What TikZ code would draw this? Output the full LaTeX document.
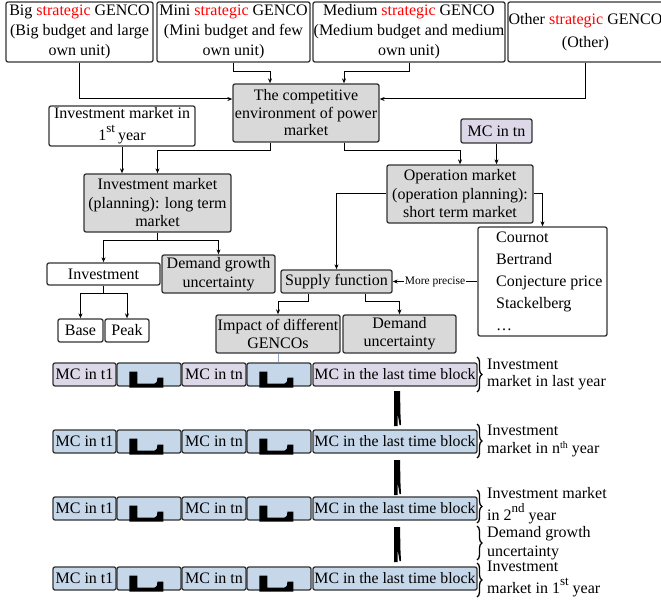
\documentclass[tikz,border=0pt]{standalone}
\usepackage{fontspec}
\setmainfont{Liberation Serif}
\usetikzlibrary{arrows.meta,decorations.pathreplacing}
\newcommand\myfs[2]{\fontsize{#1}{#2}\selectfont}
\definecolor{grayc}{HTML}{D9D9D9}
\definecolor{lavc}{HTML}{DDD8E7}
\definecolor{bluec}{HTML}{C5D7E8}
\definecolor{bordc}{HTML}{333333}
\definecolor{linkc}{HTML}{8EA9C8}
\newcommand\strat{\textcolor{red}{strategic}}
\tikzset{
  box/.style={draw=bordc, line width=1.3pt, rounded corners=2pt, inner sep=0pt, align=center, font=\myfs{16}{20}},
  gbox/.style={box, fill=grayc},
  lbox/.style={box, fill=lavc},
  bbox/.style={box, fill=bluec},
  arr/.style={draw=black, line width=1pt, -{Stealth[length=5pt,width=4pt]}},
  bracestyle/.style={draw=black, line width=1.3pt, decorate, decoration={brace, amplitude=5pt}},
  blabel/.style={anchor=west, align=left, inner sep=0pt},
}
\begin{document}
\begin{tikzpicture}[x=1pt, y=-1pt]
\useasboundingbox (0,0) rectangle (661,604);
% top row
\node[box, minimum width=147pt, minimum height=60pt] (b1) at (79.5,32) {Big \strat{} GENCO\\(Big budget and large\\own unit)};
\node[box, minimum width=153pt, minimum height=60pt] (b2) at (233.5,32) {Mini \strat{} GENCO\\(Mini budget and few\\own unit)};
\node[box, minimum width=192pt, minimum height=60pt] (b3) at (409,32) {Medium \strat{} GENCO\\(Medium budget and medium\\own unit)};
\node[box, minimum width=155pt, minimum height=60pt] (b4) at (585.5,32) {Other \strat{} GENCO\\[3pt](Other)};
% middle
\node[gbox, minimum width=146pt, minimum height=58pt, font=\myfs{16}{17.5}] (comp) at (306,113) {The competitive\\environment of power\\market};
\node[box, minimum width=146pt, minimum height=40pt] (inv1) at (122,126) {Investment market in\\[2pt]1\raisebox{8pt}{\myfs{13}{13}st}\hspace{3pt}year};
\node[lbox, minimum width=71pt, minimum height=24pt] (mctn) at (496.5,131) {MC in tn};
\node[gbox, minimum width=147pt, minimum height=58pt, font=\myfs{16}{18.5}] (plan) at (157.5,203) {Investment market\\(planning): long term\\market};
\node[gbox, minimum width=146pt, minimum height=58pt, font=\myfs{16}{18.5}] (op) at (460,194) {Operation market\\(operation planning):\\short term market};
\node[box, minimum width=129pt, minimum height=109pt] (cournot) at (542.5,281.5) {};
\node[anchor=west, align=left, inner sep=0pt, font=\myfs{16}{22}] (clist) at (496,281.5) {Cournot\\Bertrand\\Conjecture price\\Stackelberg\\\ldots};
\node[box, minimum width=113pt, minimum height=22pt] (invest) at (103.5,274) {Investment};
\node[gbox, minimum width=113pt, minimum height=38pt, font=\myfs{16}{19}] (dg) at (218.5,274) {Demand growth\\uncertainty};
\node[gbox, minimum width=111pt, minimum height=23pt] (supply) at (336.5,281.5) {Supply function};
\node[box, minimum width=45pt, minimum height=23pt] (base) at (80.5,330.5) {Base};
\node[box, minimum width=44pt, minimum height=23pt] (peak) at (127,330.5) {Peak};
\node[gbox, minimum width=124pt, minimum height=38pt, font=\myfs{16}{18}] (impact) at (278,334) {Impact of different\\GENCOs};
\node[gbox, minimum width=113pt, minimum height=38pt, font=\myfs{16}{18}] (du) at (399.5,334) {Demand\\uncertainty};
% connectors top
\draw[arr] (b1.south) |- ([yshift=14pt]comp.west);
\draw[arr] (b2.south) -- ++(0,9) -| ([xshift=-36pt]comp.north);
\draw[arr] (b3.south) -- ++(0,9) -| ([xshift=38pt]comp.north);
\draw[arr] (b4.south) |- ([yshift=14pt]comp.east);
\draw[arr] ([xshift=-36pt]comp.south) -- ++(0,8) -| (plan.north);
\draw[arr] (inv1.south) -- (inv1.south |- plan.north);
\draw[arr] ([xshift=38pt]comp.south) -- ++(0,8) -| (op.north);
\draw[arr] (mctn.south) -- (mctn.south |- op.north);
\draw[arr] (op.west) -| (supply.north);
\draw[arr] (op.east) -| (cournot.north);
\draw[arr] (cournot.west) -- node[fill=white, inner sep=1pt, font=\myfs{11.5}{12}] (mp) {More precise} (supply.east);
\draw[arr] (plan.south) -- ++(0,8) -| (invest.north);
\draw[arr] (plan.south) -- ++(0,8) -| (dg.north);
\draw[arr] (invest.south) -- ++(0,8) -| (base.north);
\draw[arr] (invest.south) -- ++(0,8) -| (peak.north);
\draw[arr] ([xshift=-28.5pt]supply.south) -- ++(0,8) -| (impact.north);
\draw[arr] ([xshift=28.5pt]supply.south) -- ++(0,8) -| (du.north);
% rows
\foreach \r/\y/\mcf in {1/374.5/lavc, 2/441.5/bluec, 3/508.5/bluec, 4/578.5/bluec} {
  \node[box, fill=\mcf, minimum width=63pt, minimum height=23pt] (t1-\r) at (84.5,\y) {MC in t1};
  \node[bbox, minimum width=64pt, minimum height=23pt] (ia-\r) at (149,\y) {};
  \node[box, fill=\mcf, minimum width=64pt, minimum height=23pt] (tn-\r) at (214,\y) {MC in tn};
  \node[bbox, minimum width=64pt, minimum height=23pt] (ib-\r) at (279,\y) {};
  \node[box, fill=\mcf, minimum width=164pt, minimum height=23pt, font=\myfs{15.8}{18}] (last-\r) at (395,\y) {MC in the last time block};
  \begin{scope}[shift={(ia-\r.south west)}]
    \fill (13,1) -- (13,-15) -- (21,-15) -- (21,-3) -- (38,-3) .. controls (40,-3) and (41,-5) .. (41,-9) -- (47,-9) -- (47,1) -- cycle;
  \end{scope}
  \begin{scope}[shift={(ib-\r.south west)}]
    \fill (13,1) -- (13,-15) -- (21,-15) -- (21,-3) -- (38,-3) .. controls (40,-3) and (41,-5) .. (41,-9) -- (47,-9) -- (47,1) -- cycle;
  \end{scope}
}
\draw[draw=linkc, line width=1pt] (impact.south) -- (impact.south |- ib-1.north);
% links between rows
\coordinate (k1) at (394,391);
\coordinate (k2) at (394,460);
\coordinate (k3) at (394,527);
\foreach \k in {k1,k2,k3} {
  \begin{scope}[shift={(\k)}]
    \fill (0,0) -- (6,0) -- (6.5,24) -- (7,34) -- (5.5,34) -- (3.5,22) -- (3.5,35) -- (0,35) -- cycle;
  \end{scope}
}
% braces
\draw[bracestyle] (477,357) -- (477,392);
\draw[bracestyle] (477,424) -- (477,458);
\draw[bracestyle] (477,490) -- (477,523);
\draw[bracestyle] (477,526) -- (477,560);
\draw[bracestyle] (477,563) -- (477,597);
\node[blabel, font=\myfs{16}{17}] (bl1) at (487,374.5) {Investment\\market in last year};
\node[blabel, font=\myfs{16}{18}] (bl2) at (487,441) {Investment\\market in n\raisebox{5pt}{\myfs{10}{10}th} year};
\node[blabel, font=\myfs{16}{20}] (bl3) at (487,506) {Investment market\\[2pt]in 2\raisebox{8pt}{\myfs{13}{13}nd}\hspace{4pt}year};
\node[blabel, font=\myfs{16}{19}] (bl4) at (487,543) {Demand growth\\uncertainty};
\node[blabel, font=\myfs{16}{20}] (bl5) at (487,579) {Investment\\[2pt]market in 1\raisebox{8pt}{\myfs{13}{13}st}\hspace{4pt}year};
\end{tikzpicture}
\end{document}
